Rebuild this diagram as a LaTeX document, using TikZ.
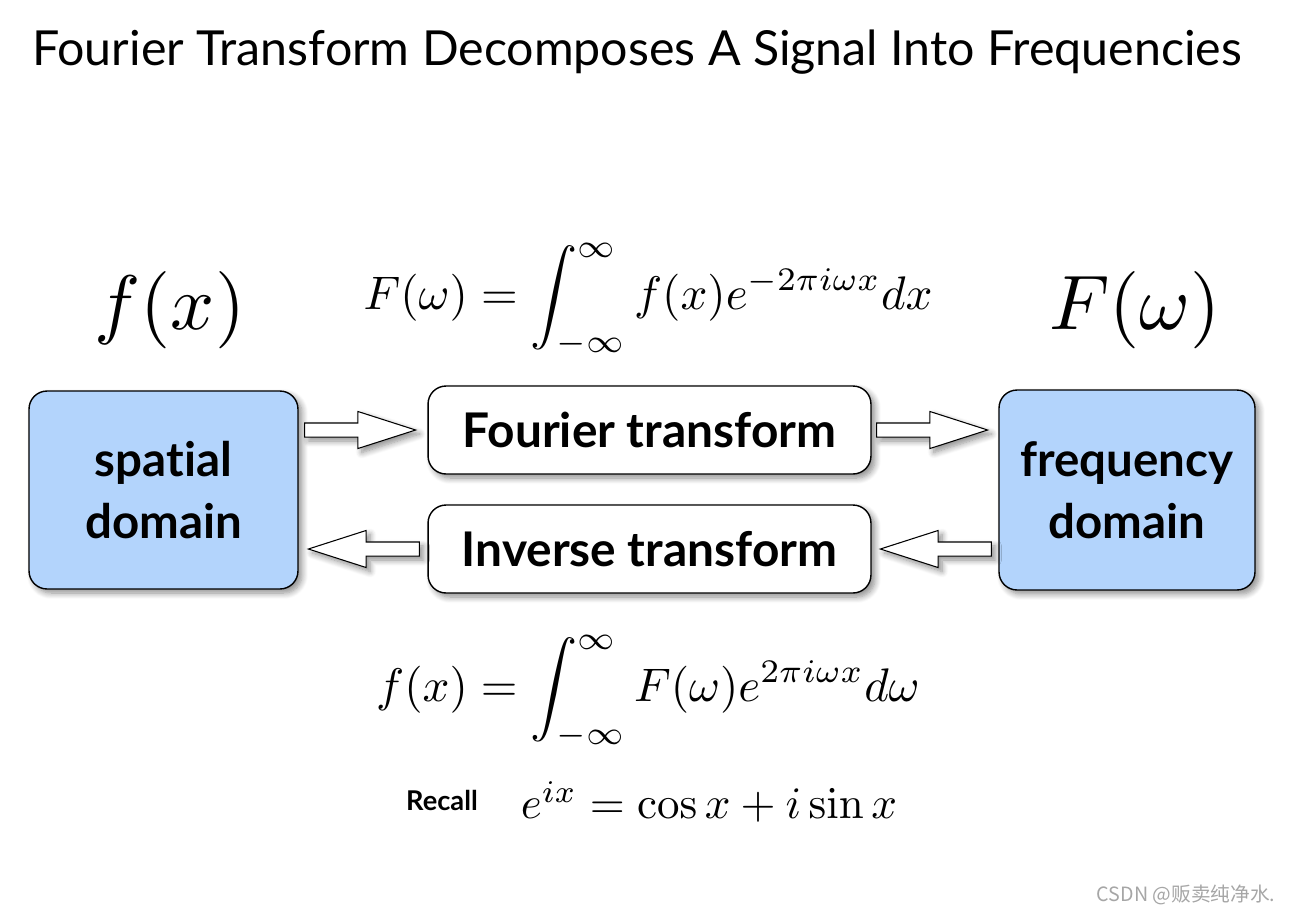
\documentclass[tikz,border=0pt]{standalone}
\usepackage{amsmath}
\usepackage[no-math]{fontspec}
\setmainfont{Lato}[Ligatures=CommonOff]
\newfontfamily\cjk{Noto Sans CJK SC}
\usetikzlibrary{shapes.arrows,shadows.blur}
\definecolor{boxblue}{RGB}{179,212,252}
\tikzset{
  soft/.style={blur shadow={shadow xshift=0.08cm,shadow yshift=-0.08cm,shadow blur steps=8,shadow blur radius=0.12cm,shadow opacity=45}},
  domainbox/.style={draw,line width=0.8pt,fill=boxblue,rounded corners=0.36cm,
    minimum width=5.38cm,minimum height=3.96cm,align=center,
    font=\fontsize{27}{35}\selectfont\bfseries,soft},
  transbox/.style={draw,line width=0.8pt,fill=white,rounded corners=0.36cm,
    minimum width=8.86cm,minimum height=1.76cm,
    font=\fontsize{27.2}{30}\selectfont\bfseries,soft},
  blockarr/.style={single arrow,draw,line width=0.6pt,fill=white,inner sep=0pt,inner ysep=0.13cm,
    minimum height=2.22cm,single arrow head extend=0.23cm,single arrow tip angle=35.6,soft},
  leftarr/.style={blockarr,shape border rotate=180},
  bigmath/.style={scale=4.4,transform shape},
  eqn/.style={scale=2.68,transform shape}
}

\begin{document}
\begin{tikzpicture}[x=0.02cm,y=-0.02cm]
  \useasboundingbox (0,0) rectangle (1289,914);
  \node[anchor=west,font=\fontsize{27.5}{32}\selectfont] (title) at (26,52) {Fourier Transform Decomposes A Signal Into Frequencies};

  \node[bigmath] (fx) at (170,310) {$f(x)$};
  \node[bigmath] (Fw) at (1135,310) {$F(\omega)$};
  \node[eqn] (fwd) at (648,300) {$\displaystyle F(\omega)=\int_{-\infty}^{\infty} f(x)e^{-2\pi i\omega x}dx$};

  \node[domainbox] (sp) at (163.5,490) {spatial\\domain};
  \node[domainbox,minimum width=5.12cm,minimum height=4cm] (fq) at (1127,490) {frequency\\domain};
  \node[transbox] (ft) at (649.5,430) {Fourier transform};
  \node[transbox] (it) at (649.5,549) {Inverse transform};

  \path (sp.east |- ft) -- (ft.west) node[blockarr,anchor=tip,pos=1,xshift=-0.2cm] (a1) {};
  \path (ft.east) -- (fq.west |- ft) node[blockarr,anchor=tip,pos=1,xshift=-0.18cm] (a2) {};
  \path (it.west) -- (sp.east |- it) node[leftarr,anchor=tip,pos=1,xshift=0.16cm] (a3) {};
  \path (fq.west |- it) -- (it.east) node[leftarr,anchor=tip,pos=1,xshift=0.14cm] (a4) {};

  \node[eqn] (inv) at (648,692) {$\displaystyle f(x)=\int_{-\infty}^{\infty} F(\omega)e^{2\pi i\omega x}d\omega$};
  \node[font=\fontsize{15.5}{18}\selectfont\bfseries] (recall) at (442,800) {Recall};
  \node[scale=2.56,transform shape] (euler) at (709,802) {$e^{ix}=\cos x+i\sin x$};
  \node[text=gray!70,font=\cjk\fontsize{11.2}{13}\selectfont] (mark) at (1186,895) {CSDN @贩卖纯净水.};
\end{tikzpicture}
\end{document}
